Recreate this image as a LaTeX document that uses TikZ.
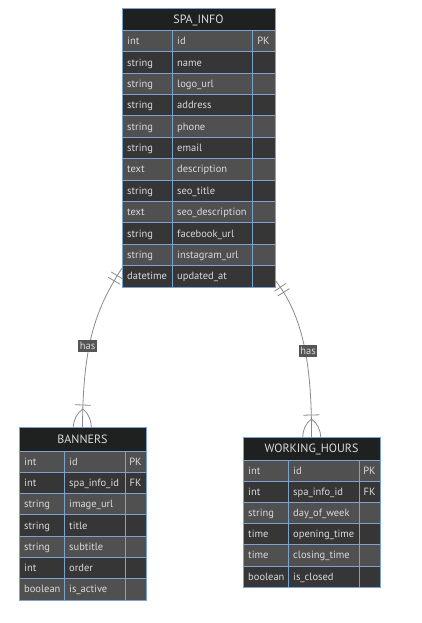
\documentclass[tikz,border=0pt]{standalone}
\usepackage{fontspec}
\setmainfont{PT Sans}
\usetikzlibrary{decorations.markings}
\definecolor{hdr}{HTML}{1F2020}
\definecolor{rowA}{HTML}{505050}
\definecolor{rowB}{HTML}{363636}
\definecolor{bord}{HTML}{7BA2D0}
\definecolor{txt}{HTML}{DADADA}
\definecolor{edgec}{HTML}{8A8A8A}
\definecolor{lblbg}{HTML}{555555}
\tikzset{
  cellbox/.style={draw=bord, line width=1pt, inner sep=0pt, outer sep=0pt},
  celltext/.style={text=txt, inner sep=0pt, font=\fontsize{10.5}{12}\selectfont},
  hdrtext/.style={text=txt, inner sep=0pt, font=\fontsize{12}{14}\selectfont},
  rellabel/.style={fill=lblbg, text=txt, inner xsep=1.5pt, inner ysep=0pt, minimum height=12pt, font=\fontsize{10.5}{12}\selectfont},
  relline/.style={draw=edgec, line width=0.8pt,
    postaction={decorate, decoration={markings,
      mark=at position 9pt with {\draw[edgec, line width=0.8pt] (0pt,-7pt) -- (0pt,7pt);},
      mark=at position 15pt with {\draw[edgec, line width=0.8pt] (0pt,-7pt) -- (0pt,7pt);},
      mark=at position -22pt with {\draw[edgec, line width=0.8pt] (0pt,-8pt) -- (0pt,8pt);},
      mark=at position -18pt with {\draw[edgec, line width=0.8pt] (18pt,9pt) .. controls (12pt,9pt) and (4pt,6pt) .. (0pt,0pt) .. controls (4pt,-6pt) and (12pt,-9pt) .. (18pt,-9pt);}
    }}},
}
% header: prefix, title, x0, x3, ytop, ybot
\newcommand\erHead[6]{%
  \pgfmathsetmacro\hw{#4-#3}\pgfmathsetmacro\hh{#6-#5}%
  \pgfmathsetmacro\hx{(#3+#4)/2}\pgfmathsetmacro\hy{(#5+#6)/2}%
  \node[cellbox, fill=hdr, minimum width=\hw pt, minimum height=\hh pt] (#1-head) at (\hx,\hy) {};
  \node[hdrtext, anchor=base] (#1-title) at ([yshift=-4pt]#1-head.center) {#2};
}
% rows: prefix, x0, x1, x2, x3, ystart, rowh, list
\newcommand\erRows[8]{%
  \pgfmathsetmacro\wA{#3-#2}\pgfmathsetmacro\wB{#4-#3}\pgfmathsetmacro\wC{#5-#4}%
  \pgfmathsetmacro\cA{(#2+#3)/2}\pgfmathsetmacro\cB{(#3+#4)/2}\pgfmathsetmacro\cC{(#4+#5)/2}%
  \foreach \ty/\nm/\ky [count=\i] in {#8} {%
    \pgfmathsetmacro\yc{#6+(\i-0.5)*#7}%
    \ifodd\i \def\rf{rowA}\else\def\rf{rowB}\fi
    \node[cellbox, fill=\rf, minimum width=\wA pt, minimum height=#7pt] (#1-\i-t) at (\cA,\yc) {};
    \node[cellbox, fill=\rf, minimum width=\wB pt, minimum height=#7pt] (#1-\i-n) at (\cB,\yc) {};
    \node[cellbox, fill=\rf, minimum width=\wC pt, minimum height=#7pt] (#1-\i-k) at (\cC,\yc) {};
    \node[celltext, anchor=base west] (#1-\i-tt) at ([xshift=5pt,yshift=-3.5pt]#1-\i-t.west) {\ty};
    \node[celltext, anchor=base west] (#1-\i-nt) at ([xshift=5pt,yshift=-3.5pt]#1-\i-n.west) {\nm};
    \node[celltext, anchor=base] (#1-\i-kt) at ([yshift=-3.5pt]#1-\i-k.center) {\ky};
  }%
}
\begin{document}
\begin{tikzpicture}[x=1pt, y=-1pt]
\fill[white] (0,0) rectangle (422,623);
\useasboundingbox (0,0) rectangle (422,623);

% SPA_INFO
\erHead{spa}{SPA\_INFO}{122}{275}{9}{30.5}
\erRows{spa}{122}{172}{252}{275}{30.5}{21.375}{int/id/PK, string/name/{}, string/logo\_url/{}, string/address/{}, string/phone/{}, string/email/{}, text/description/{}, string/seo\_title/{}, text/seo\_description/{}, string/facebook\_url/{}, string/instagram\_url/{}, datetime/updated\_at/{}}

% BANNERS
\erHead{bn}{BANNERS}{19}{146}{427}{451}
\erRows{bn}{19}{64}{125}{146}{451}{21.3}{int/id/PK, int/spa\_info\_id/FK, string/image\_url/{}, string/title/{}, string/subtitle/{}, int/order/{}, boolean/is\_active/{}}

% WORKING_HOURS
\erHead{wh}{WORKING\_HOURS}{243}{380}{437}{460}
\erRows{wh}{243}{288}{359}{380}{460}{21.2}{int/id/PK, int/spa\_info\_id/FK, string/day\_of\_week/{}, time/opening\_time/{}, time/closing\_time/{}, boolean/is\_closed/{}}

% relationships
\coordinate (spaL) at ([yshift=19pt]spa-12-t.south west);
\coordinate (spaR) at ([yshift=7pt]spa-12-k.south east);
\draw[relline] (spaL) .. controls (95,310) and (83,345) .. (bn-head.north);
\draw[relline] (spaR) .. controls (300,312) and (312,355) .. (wh-head.north);
\node[rellabel] (has1) at (87.5,345.5) {has};
\node[rellabel] (has2) at (308,351) {has};
\end{tikzpicture}
\end{document}
